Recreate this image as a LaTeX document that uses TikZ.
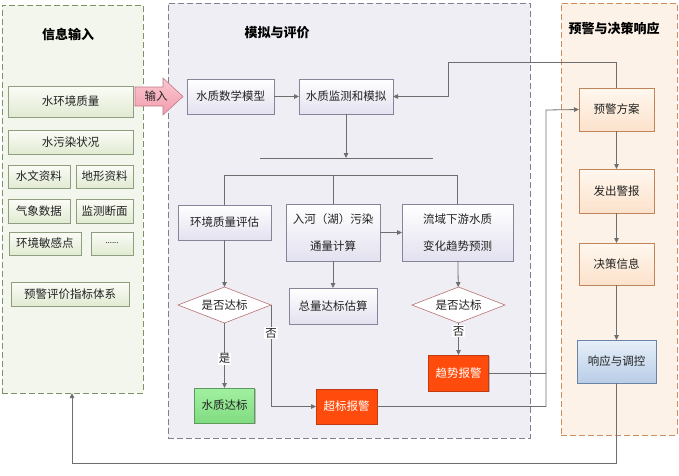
\documentclass[tikz,border=0pt]{standalone}
\usepackage{fontspec}
\setmainfont{Noto Sans CJK SC}
\usetikzlibrary{shapes.geometric,arrows.meta,shadows,calc}
\definecolor{lnc}{HTML}{6E6E6E}
\definecolor{txc}{HTML}{222222}
\definecolor{gdraw}{HTML}{8E9E7E}\definecolor{gtop}{HTML}{FBFCF7}\definecolor{gbot}{HTML}{E1EAD2}
\definecolor{pdraw}{HTML}{85859A}\definecolor{pbot}{HTML}{E3E1EF}
\definecolor{odraw}{HTML}{BF8458}\definecolor{otop}{HTML}{FFF7EF}\definecolor{obot}{HTML}{FCE2CB}
\definecolor{bdraw}{HTML}{6A84A8}\definecolor{btop}{HTML}{E6EFF9}\definecolor{bbot}{HTML}{B9CDE6}
\definecolor{rdraw}{HTML}{C23A12}\definecolor{rfill}{HTML}{FF4C0C}
\definecolor{grdraw}{HTML}{5E9A5E}\definecolor{grtop}{HTML}{A2F0A2}\definecolor{grbot}{HTML}{80DC80}
\definecolor{ddraw}{HTML}{B87272}
\definecolor{pLfill}{HTML}{F3F6EC}\definecolor{pLdraw}{HTML}{7E9268}
\definecolor{pMfill}{HTML}{EFEEF5}\definecolor{pMdraw}{HTML}{80808E}
\definecolor{pRfill}{HTML}{FDF2E8}\definecolor{pRdraw}{HTML}{CC8E5E}
\definecolor{ktop}{HTML}{FAC8D1}\definecolor{kbot}{HTML}{F29CAC}\definecolor{kdraw}{HTML}{C27A89}
\begin{document}
\begin{tikzpicture}[x=1pt,y=-1pt,
  font=\fontsize{11.5}{13}\selectfont, text=txc,
  every node/.style={inner sep=0pt, outer sep=0pt},
  shad/.style={drop shadow={shadow xshift=1.4pt, shadow yshift=-1.4pt, opacity=0.22, fill=black}},
  panel/.style={line width=0.8pt, dash pattern=on 6pt off 3pt, rectangle, anchor=north west},
  gbox/.style={rectangle, shad, draw=gdraw, top color=gtop, bottom color=gbot},
  pbox/.style={rectangle, shad, draw=pdraw, top color=white, bottom color=pbot},
  obox/.style={rectangle, shad, draw=odraw, top color=otop, bottom color=obot},
  bbox/.style={rectangle, shad, draw=bdraw, top color=btop, bottom color=bbot},
  rbox/.style={rectangle, shad, draw=rdraw, fill=rfill, text=white},
  grbox/.style={rectangle, shad, draw=grdraw, top color=grtop, bottom color=grbot},
  dia/.style={diamond, shape aspect=2.6, draw=ddraw, fill=white, line width=0.6pt},
  ttl/.style={font=\fontsize{13}{15}\selectfont\bfseries, text=black},
  con/.style={draw=lnc, line width=0.8pt},
  arr/.style={con, -{Triangle[length=5pt,width=4.5pt]}},
  lab/.style={fill=white, inner sep=1pt},
]
\useasboundingbox (0,0) rectangle (679,475);
% panels
\node[panel, draw=pLdraw, fill=pLfill, minimum width=141pt, minimum height=388pt] (panelL) at (2,5) {};
\node[panel, draw=pMdraw, fill=pMfill, minimum width=362pt, minimum height=435pt] (panelM) at (168,3) {};
\node[panel, draw=pRdraw, fill=pRfill, minimum width=116pt, minimum height=432pt] (panelR) at (561,3) {};
\node[ttl] (t1) at (68,35) {信息输入};
\node[ttl] (t2) at (277,33) {模拟与评价};
\node[ttl] (t3) at (614,29) {预警与决策响应};
% left boxes
\node[gbox, minimum width=125pt, minimum height=31pt] (b1) at (70.5,101.5) {水环境质量};
\node[gbox, minimum width=125pt, minimum height=24pt] (b2) at (70.5,142) {水污染状况};
\node[gbox, minimum width=62pt, minimum height=23pt] (b3) at (39,176.5) {水文资料};
\node[gbox, minimum width=57pt, minimum height=23pt] (b4) at (104.5,176.5) {地形资料};
\node[gbox, minimum width=62pt, minimum height=24pt] (b5) at (39,211) {气象数据};
\node[gbox, minimum width=57pt, minimum height=24pt] (b6) at (104.5,211) {监测断面};
\node[gbox, minimum width=72pt, minimum height=23pt] (b7) at (45,243.5) {环境敏感点};
\node[gbox, minimum width=42pt, minimum height=23pt, font=\fontsize{8}{9}\selectfont] (b8) at (112,243.5) {......};
\node[gbox, minimum width=118pt, minimum height=24pt] (b9) at (70,294) {预警评价指标体系};
% input arrow
\shade[top color=ktop, bottom color=kbot, draw=kdraw, line width=0.6pt]
  (135,87) -- (163,87) -- (163,78) -- (183,96.5) -- (163,115) -- (163,106) -- (135,106) -- cycle;
\node (inlab) at (156,96.5) {输入};
% middle boxes
\node[pbox, minimum width=87pt, minimum height=35pt] (m1) at (230.5,96.5) {水质数学模型};
\node[pbox, minimum width=94pt, minimum height=35pt] (m2) at (346,96.5) {水质监测和模拟};
\node[pbox, minimum width=93pt, minimum height=35pt] (m3) at (224.5,222.5) {环境质量评估};
\node[pbox, minimum width=94pt, minimum height=57pt, align=center] (m4) at (333,232.5) {入河（湖）污染\\[14pt]通量计算};
\node[pbox, minimum width=111pt, minimum height=57pt, align=center] (m5) at (457.5,232.5) {流域下游水质\\[14pt]变化趋势预测};
\node[pbox, minimum width=88pt, minimum height=36pt] (m6) at (333,306) {总量达标估算};
\node[dia, minimum width=93pt, minimum height=36pt] (d1) at (224.5,305) {是否达标};
\node[dia, minimum width=93pt, minimum height=36pt] (d2) at (458.5,305) {是否达标};
\node[grbox, minimum width=60pt, minimum height=35pt] (g1) at (224.5,405.5) {水质达标};
\node[rbox, minimum width=61pt, minimum height=35pt] (r1) at (346.5,406.5) {超标报警};
\node[rbox, minimum width=60pt, minimum height=36pt] (r2) at (458.5,373) {趋势报警};
% right boxes
\node[obox, minimum width=75pt, minimum height=43pt] (p1) at (616.5,109.5) {预警方案};
\node[obox, minimum width=75pt, minimum height=44pt] (p2) at (616.5,191) {发出警报};
\node[obox, minimum width=75pt, minimum height=42pt] (p3) at (616.5,264) {决策信息};
\node[bbox, minimum width=79pt, minimum height=43pt] (p4) at (616.5,361.5) {响应与调控};
% bars
\coordinate (bar1L) at (260,158); \coordinate (bar1R) at (433,158);
\coordinate (bar2L) at (224.5,175); \coordinate (bar2R) at (457.5,175);
\draw[con] (bar1L) -- (bar1R);
\draw[con] (bar2L) -- (bar2R);
% connectors
\draw[arr] (m1) -- (m2);
\draw[arr] (m2.south) -- (m2.south |- bar1L);
\draw[con] (bar2L) -- (m3.north);
\draw[con] (m4.north |- bar2L) -- (m4.north);
\draw[con] (bar2R) -- (m5.north);
\draw[arr] (m4.east) -- (m4.east -| m5.west);
\draw[arr] (m3) -- (d1);
\draw[arr] (m4) -- (m6);
\draw[arr] (m5) -- (d2);
\draw[arr] (d1) -- node[lab, pos=0.55] {是} (g1);
\draw[arr] (d1.east) -- (d1.east |- r1.west) -- (r1.west);
\node[lab] (no1) at (d1.east |- 0,333) {否};
\draw[arr] (d2) -- (r2);
\node[lab] (no2) at (458.5,331) {否};
\coordinate (jn) at (546,110);
\draw[con] (r2.east) -- (r2.east -| jn);
\draw[arr] (r1.east) -- (r1.east -| jn) -- (jn) -- (p1.west);
\draw[arr] (p1.north) -- (616.5,62) -- (448,62) -- (448,96.5) -- (m2.east);
\draw[arr] (p1) -- (p2);
\draw[arr] (p2) -- (p3);
\draw[arr] (p3) -- (p4);
\coordinate (fb) at (72,463);
\draw[arr] (p4.south) -- (p4.south |- fb) -- (fb) -- (fb |- panelL.south);
\end{tikzpicture}
\end{document}
